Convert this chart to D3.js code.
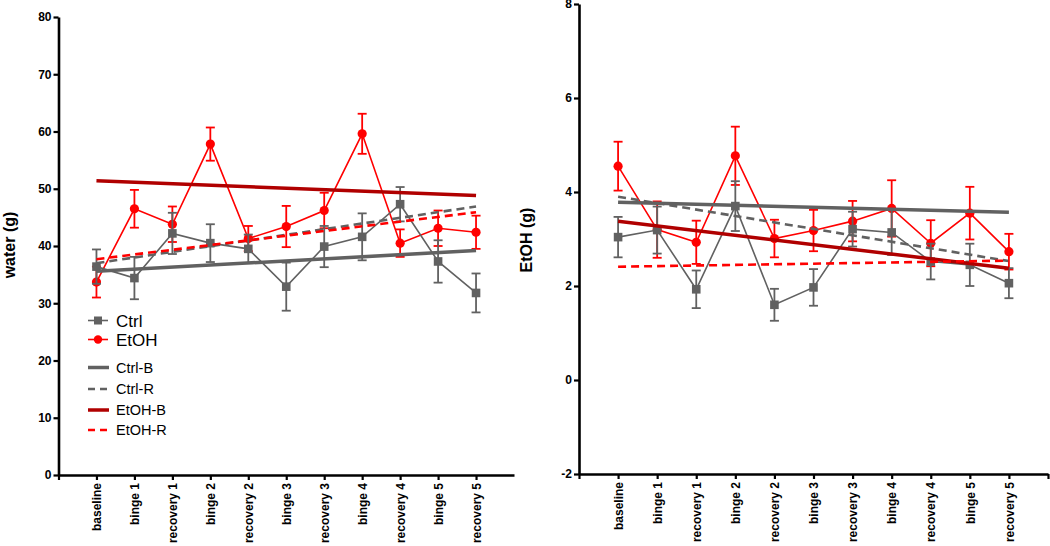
<!DOCTYPE html>
<html><head><meta charset="utf-8">
<script src="https://cdn.jsdelivr.net/npm/d3@7"></script>
<style>body{margin:0;background:#fff}svg{display:block}text{font-family:"Liberation Sans",Arial,sans-serif}</style>
</head><body><svg id="chart" width="1050" height="546"></svg>
<script>
const categories = ["baseline","binge 1","recovery 1","binge 2","recovery 2","binge 3","recovery 3","binge 4","recovery 4","binge 5","recovery 5"];

const waterCtrlMean = [36.4, 34.4, 42.2, 40.5, 39.5, 32.9, 39.9, 41.6, 47.3, 37.3, 31.8];
const waterCtrlSem  = [3.0, 3.7, 3.6, 3.3, 2.5, 4.2, 3.6, 4.1, 3.0, 3.7, 3.4];
const waterEtohMean = [33.7, 46.5, 43.8, 57.8, 41.3, 43.4, 46.2, 59.6, 40.5, 43.1, 42.4];
const waterEtohSem  = [2.7, 3.3, 3.1, 2.9, 2.2, 3.6, 3.1, 3.5, 2.4, 3.1, 2.9];

const etohCtrlMean = [3.04, 3.19, 1.93, 3.70, 1.60, 1.97, 3.21, 3.14, 2.52, 2.45, 2.06];
const etohCtrlSem  = [0.43, 0.50, 0.40, 0.53, 0.34, 0.39, 0.37, 0.48, 0.38, 0.45, 0.32];
const etohEtohMean = [4.55, 3.20, 2.93, 4.77, 3.01, 3.18, 3.38, 3.65, 2.91, 3.55, 2.73];
const etohEtohSem  = [0.52, 0.60, 0.46, 0.62, 0.40, 0.44, 0.43, 0.60, 0.49, 0.56, 0.38];

const seriesNames = ["Ctrl", "EtOH"];
const trendNames = ["Ctrl-B", "Ctrl-R", "EtOH-B", "EtOH-R"];
const waterTrendStart = [35.6, 37.0, 51.4, 37.7];
const waterTrendEnd   = [39.2, 46.9, 48.8, 45.9];
const etohTrendStart  = [3.78, 3.90, 3.38, 2.41];
const etohTrendEnd    = [3.57, 2.53, 2.38, 2.54];

const waterTicks = [0, 10, 20, 30, 40, 50, 60, 70, 80];
const etohTicks = [-2, 0, 2, 4, 6, 8];

const GRAY = "#616161", RED = "#ff0000", DARKRED = "#b00000";
const trendStyle = {
  "Ctrl-B": {color: GRAY, width: 3.5, dash: null},
  "Ctrl-R": {color: GRAY, width: 2.6, dash: "8,5"},
  "EtOH-B": {color: DARKRED, width: 3.5, dash: null},
  "EtOH-R": {color: RED, width: 2.6, dash: "8,5"}
};

const svg = d3.select("#chart");

function panel(cfg) {
  const g = svg.append("g");
  const x = d3.scaleLinear().domain([0, 12]).range(cfg.xRange);
  const y = d3.scaleLinear().domain(cfg.yDomain).range(cfg.yRange);
  const xi = i => x(i + 1);

  const ya = g.append("g").attr("transform", `translate(${cfg.xRange[0]},0)`)
    .call(d3.axisLeft(y).tickValues(cfg.yTicks).tickSize(5).tickSizeOuter(0).tickPadding(2).tickFormat(d => String(d)));
  ya.select(".domain").attr("stroke-width", 2.6).attr("stroke", "#000");
  ya.selectAll(".tick line").attr("stroke-width", 2.2);
  ya.selectAll(".tick text").attr("font-size", 12).attr("font-weight", "bold").attr("fill", "#000")
    .attr("font-family", '"Liberation Sans", Arial, sans-serif');

  const xTickVals = d3.range(0, cfg.lastTick + 1);
  const xa = g.append("g").attr("transform", `translate(0,${cfg.yRange[0]})`)
    .call(d3.axisBottom(x).tickValues(xTickVals).tickSize(5).tickSizeOuter(0)
      .tickFormat(d => (d >= 1 && d <= categories.length) ? categories[d - 1] : ""));
  xa.select(".domain").attr("stroke-width", 2.6).attr("stroke", "#000");
  xa.selectAll(".tick line").attr("stroke-width", 2.2);
  xa.selectAll(".tick text").attr("font-size", 12).attr("font-weight", "bold").attr("fill", "#000")
    .attr("font-family", '"Liberation Sans", Arial, sans-serif')
    .attr("transform", "rotate(-90)").attr("text-anchor", "end")
    .attr("x", -8).attr("y", 0).attr("dy", "0.35em");

  g.append("text").attr("transform", `translate(${cfg.labelPos[0]},${cfg.labelPos[1]}) rotate(-90)`)
    .attr("text-anchor", "middle").attr("font-size", 16).attr("font-weight", "bold").text(cfg.yLabel);

  const line = d3.line().x((d, i) => xi(i)).y(d => y(d));
  const series = [
    {name: "EtOH", mean: cfg.etohMean, sem: cfg.etohSem, color: RED, shape: "circle"},
    {name: "Ctrl", mean: cfg.ctrlMean, sem: cfg.ctrlSem, color: GRAY, shape: "square"}
  ];
  series.forEach(s => {
    const sg = g.append("g");
    sg.append("path").datum(s.mean).attr("d", line).attr("fill", "none")
      .attr("stroke", s.color).attr("stroke-width", 1.6);
    const eb = sg.selectAll(".eb").data(s.mean).enter().append("g");
    eb.append("line").attr("x1", (d, i) => xi(i)).attr("x2", (d, i) => xi(i))
      .attr("y1", (d, i) => y(d + s.sem[i])).attr("y2", (d, i) => y(d - s.sem[i]))
      .attr("stroke", s.color).attr("stroke-width", 1.8);
    [1, -1].forEach(sgn => {
      eb.append("line").attr("x1", (d, i) => xi(i) - 4.5).attr("x2", (d, i) => xi(i) + 4.5)
        .attr("y1", (d, i) => y(d + sgn * s.sem[i])).attr("y2", (d, i) => y(d + sgn * s.sem[i]))
        .attr("stroke", s.color).attr("stroke-width", 1.8);
    });
    if (s.shape === "circle") {
      sg.selectAll(".pt").data(s.mean).enter().append("circle")
        .attr("cx", (d, i) => xi(i)).attr("cy", d => y(d)).attr("r", 4.6).attr("fill", s.color);
    } else {
      sg.selectAll(".pt").data(s.mean).enter().append("rect")
        .attr("x", (d, i) => xi(i) - 4.3).attr("y", d => y(d) - 4.3)
        .attr("width", 8.6).attr("height", 8.6).attr("fill", s.color);
    }
  });

  trendNames.forEach((n, k) => {
    const st = trendStyle[n];
    g.append("line").attr("x1", xi(0)).attr("x2", xi(categories.length - 1))
      .attr("y1", y(cfg.trendStart[k])).attr("y2", y(cfg.trendEnd[k]))
      .attr("stroke", st.color).attr("stroke-width", st.width)
      .attr("stroke-dasharray", st.dash);
  });
  return g;
}

const left = panel({
  xRange: [58.5, 514], yDomain: [0, 80], yRange: [475, 17], yTicks: waterTicks, lastTick: 11,
  yLabel: "water (g)", labelPos: [15, 245],
  ctrlMean: waterCtrlMean, ctrlSem: waterCtrlSem, etohMean: waterEtohMean, etohSem: waterEtohSem,
  trendStart: waterTrendStart, trendEnd: waterTrendEnd
});

panel({
  xRange: [579, 1048], yDomain: [-2, 8], yRange: [474, 4], yTicks: etohTicks, lastTick: 12,
  yLabel: "EtOH (g)", labelPos: [532, 240],
  ctrlMean: etohCtrlMean, ctrlSem: etohCtrlSem, etohMean: etohEtohMean, etohSem: etohEtohSem,
  trendStart: etohTrendStart, trendEnd: etohTrendEnd
});

const lg = left.append("g");
const lx0 = 88, lx1 = 108, tx = 116;
const seriesLegend = [
  {name: seriesNames[0], color: GRAY, shape: "square", y: 320.5},
  {name: seriesNames[1], color: RED, shape: "circle", y: 339.5}
];
seriesLegend.forEach(s => {
  lg.append("line").attr("x1", lx0).attr("x2", lx1).attr("y1", s.y).attr("y2", s.y)
    .attr("stroke", s.color).attr("stroke-width", 1.6);
  if (s.shape === "circle") lg.append("circle").attr("cx", (lx0 + lx1) / 2).attr("cy", s.y).attr("r", 4.2).attr("fill", s.color);
  else lg.append("rect").attr("x", (lx0 + lx1) / 2 - 4).attr("y", s.y - 4).attr("width", 8).attr("height", 8).attr("fill", s.color);
  lg.append("text").attr("x", tx).attr("y", s.y).attr("dy", "0.36em").attr("font-size", 17).text(s.name);
});
const trendLegendY = [367.5, 389, 410, 430];
trendNames.forEach((n, k) => {
  const st = trendStyle[n];
  lg.append("line").attr("x1", lx0).attr("x2", lx1 + 1).attr("y1", trendLegendY[k]).attr("y2", trendLegendY[k])
    .attr("stroke", st.color).attr("stroke-width", st.width).attr("stroke-dasharray", st.dash ? "7,5" : null);
  lg.append("text").attr("x", tx).attr("y", trendLegendY[k]).attr("dy", "0.36em").attr("font-size", 14.5).text(n);
});
</script></body></html>
